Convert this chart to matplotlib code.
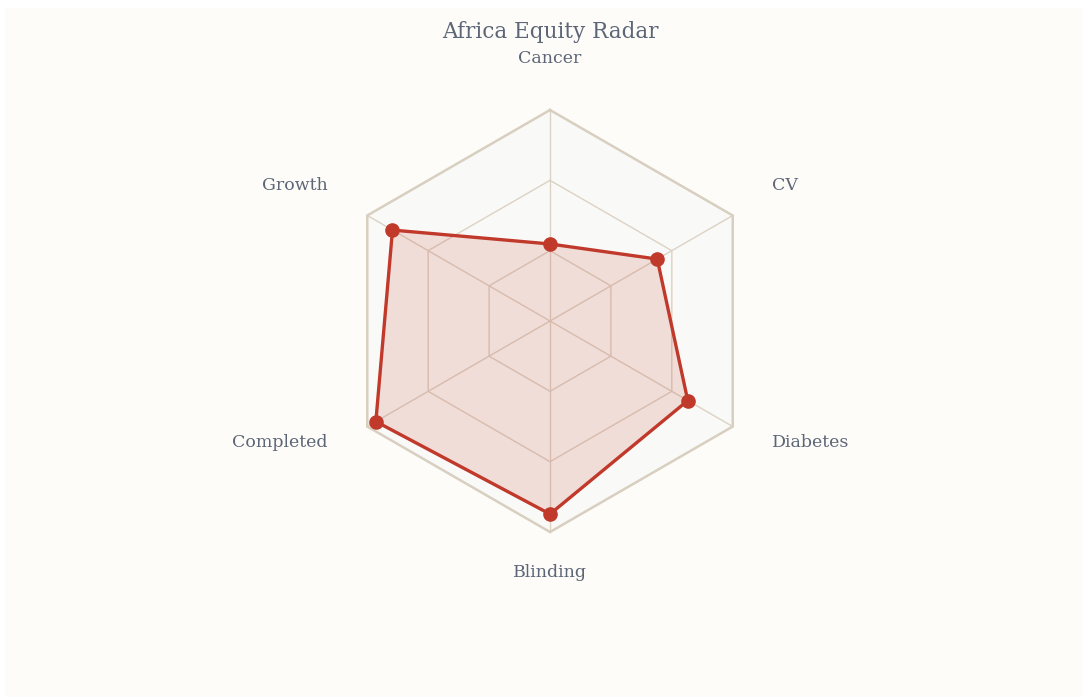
import numpy as np
import matplotlib
matplotlib.use("Agg")
import matplotlib.pyplot as plt
from matplotlib.patches import Rectangle

# data
categories = ["Cancer", "CV", "Diabetes", "Blinding", "Completed", "Growth"]
values = [36.5, 58.7, 75.4, 91.5, 95.3, 86.2]
vmax = 100
grid_levels = [100 / 3, 200 / 3, 100]

W, H = 1083, 697
CX, CY, R = 550, 321, 211  # pixel centre / radius of the radar

fig = plt.figure(figsize=(W / 100, H / 100), dpi=100)
fig.patch.set_facecolor("white")
fig.patches.append(Rectangle((5 / W, 0), 1, 1 - 8 / H, transform=fig.transFigure,
                             facecolor="#fdfcf8", edgecolor="none", zorder=-5))

ax = fig.add_axes([0, 0, 1, 1])
ax.set_zorder(2)
ax.set_xlim(-CX / R, (W - CX) / R)
ax.set_ylim(-(H - CY) / R, CY / R)
ax.axis("off")

n = len(categories)
ang = np.pi / 2 - np.arange(n) * 2 * np.pi / n  # clockwise from top
ux, uy = np.cos(ang), np.sin(ang)


def ring(frac):
    return np.r_[ux, ux[:1]] * frac, np.r_[uy, uy[:1]] * frac


grid_col = "#dcd2c4"
gx, gy = ring(1.0)
ax.fill(gx, gy, color="#f9faf7", zorder=1)
for lv in grid_levels[:-1]:
    x, y = ring(lv / vmax)
    ax.plot(x, y, color=grid_col, lw=1.0, zorder=2)
for i in range(n):
    ax.plot([0, ux[i]], [0, uy[i]], color=grid_col, lw=1.0, zorder=2)
ax.plot(gx, gy, color="#d8cfc0", lw=1.8, zorder=2, solid_joinstyle="miter")

v = np.array(values) / vmax
px, py = np.r_[ux * v, ux[:1] * v[:1]], np.r_[uy * v, uy[:1] * v[:1]]
ax.fill(px, py, color="#c0392b", alpha=0.15, lw=0, zorder=3)
ax.plot(px, py, color="#c0392b", lw=2.4, zorder=4)
ax.plot(px[:-1], py[:-1], "o", color="#c0392b", ms=9.5, zorder=5)

txt = dict(family="DejaVu Serif", color="#5d6677")
ax.text(0, (CY - 32) / R, "Africa Equity Radar", ha="center", va="center", fontsize=15.5, **txt)

# axis labels
for i, c in enumerate(categories):
    x, y = ux[i], uy[i]
    if abs(x) < 1e-6:
        y = y * (1.245 if y > 0 else 1.19)
        ax.text(0, y, c, ha="center", va="center", fontsize=12.5, **txt)
    else:
        ha = "left" if x > 0 else "right"
        y = y * (1.28 if y > 0 else 1.155)
        ax.text(x * 1.215, y, c, ha=ha, va="center", fontsize=12.5, **txt)

fig.savefig("out.png", dpi=100, facecolor=fig.get_facecolor())
